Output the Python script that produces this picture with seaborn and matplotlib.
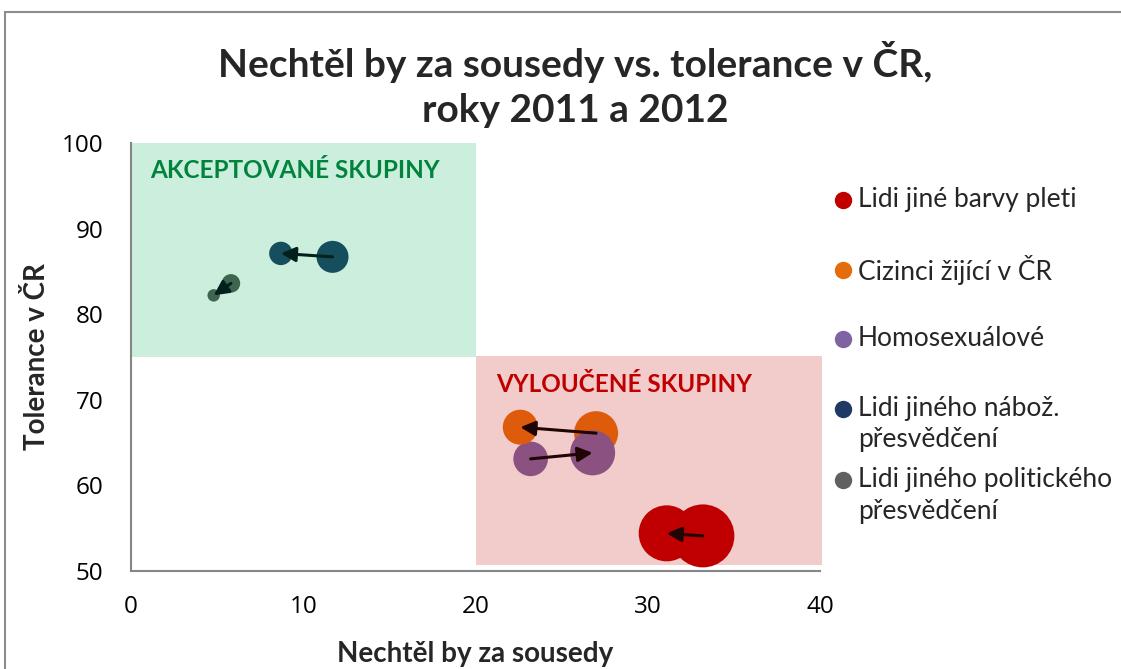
import matplotlib
matplotlib.use("Agg")
import matplotlib.pyplot as plt
import matplotlib.patches as mpatches
from matplotlib.lines import Line2D
import seaborn as sns
import pandas as pd

# ---- data ----
groups = ["Lidi jiné barvy pleti", "Cizinci žijící v ČR", "Homosexuálové",
          "Lidi jiného nábož. přesvědčení", "Lidi jiného politického přesvědčení"]
legend_labels = [["Lidi jiné barvy pleti"], ["Cizinci žijící v ČR"], ["Homosexuálové"],
                 ["Lidi jiného nábož.", "přesvědčení"],
                 ["Lidi jiného politického", "přesvědčení"]]
x_2011 = [33.2, 27.0, 23.2, 11.7, 5.8]
y_2011 = [54.1, 66.1, 63.1, 86.7, 83.6]
x_2012 = [31.1, 22.6, 26.8, 8.7, 4.8]
y_2012 = [54.4, 66.8, 63.8, 87.1, 82.2]
size_2011 = [2057, 1004, 620, 531, 179]
size_2012 = [1626, 635, 1050, 284, 80]
x_ticks = [0, 10, 20, 30, 40]
y_ticks = [50, 60, 70, 80, 90, 100]

title_lines = ["Nechtěl by za sousedy vs. tolerance v ČR,", "roky 2011 a 2012"]
xlabel = "Nechtěl by za sousedy"
ylabel = "Tolerance v ČR"

point_colors = ["#C00000", "#DE5B0B", "#8B5181", "#154F5E", "#3F6550"]
legend_colors = ["#C00000", "#E46C0A", "#8064A2", "#1F3864", "#606060"]
arrow_colors = ["#200505", "#200505", "#200505", "#04201A", "#04201A"]

df = pd.DataFrame({
    "group": groups * 2,
    "x": x_2011 + x_2012,
    "y": y_2011 + y_2012,
    "size": size_2011 + size_2012,
    "year": ["2011"] * 5 + ["2012"] * 5,
})

sns.set_theme(style="white")
plt.rcParams["font.family"] = ["Lato", "DejaVu Sans"]

W, H = 1121, 669
fig = plt.figure(figsize=(W / 100, H / 100), dpi=100)
ax = fig.add_axes([131 / W, 1 - 571 / H, (820 - 131) / W, (571 - 143) / H])

# outer frame
fig.add_artist(mpatches.Rectangle((5 / W, -0.05), 1.1, 1 - 12 / H + 0.05,
                                  transform=fig.transFigure, fill=False,
                                  edgecolor="#8C8C8C", linewidth=1.5, zorder=0))

# zones
ax.add_patch(mpatches.Rectangle((0, 75), 20, 25, facecolor="#CCEEDC", edgecolor="none", zorder=0))
ax.add_patch(mpatches.Rectangle((20, 50.7), 20.1, 24.4, facecolor="#F2CBCB", edgecolor="none",
                                zorder=0, clip_on=False))
ax.text(1.1, 96.8, "AKCEPTOVANÉ SKUPINY", color="#00843D", fontsize=17.5, fontweight="bold",
        va="center", ha="left")
ax.text(21.2, 71.8, "VYLOUČENÉ SKUPINY", color="#C00000", fontsize=17.5, fontweight="bold",
        va="center", ha="left")

smin, smax = min(df["size"]), max(df["size"])
sns.scatterplot(data=df, x="x", y="y", hue="group", size="size", sizes=(smin, smax),
                size_norm=(smin, smax), palette=dict(zip(groups, point_colors)),
                hue_order=groups, linewidth=0, alpha=1, legend=False, ax=ax, zorder=3)

for i in range(len(groups)):
    ax.annotate("", xy=(x_2012[i], y_2012[i]), xytext=(x_2011[i], y_2011[i]),
                arrowprops=dict(arrowstyle="-|>", color=arrow_colors[i], lw=2.2,
                                mutation_scale=22, shrinkA=0, shrinkB=0), zorder=4)

ax.set_xlim(0, 40)
ax.set_ylim(50, 100)
ax.set_xticks(x_ticks)
ax.set_yticks(y_ticks)
ax.tick_params(axis="both", length=7, width=1.5, color="#868686",
               direction="out", labelcolor="black", labelsize=17.5,
               labelfontfamily="Open Sans")
ax.tick_params(axis="x", pad=10)
ax.tick_params(axis="y", pad=13)
for s in ["top", "right"]:
    ax.spines[s].set_visible(False)
for s in ["left", "bottom"]:
    ax.spines[s].set_color("#868686")
    ax.spines[s].set_linewidth(1.5)
ax.set_facecolor("none")
ax.set_xlabel(xlabel, fontsize=20, fontweight="bold", labelpad=16)
ax.set_ylabel(ylabel, fontsize=20, fontweight="bold", labelpad=8)

for k, line in enumerate(title_lines):
    fig.text(575 / W, 1 - (62 + 48 * k) / H, line, ha="center", va="center", fontsize=28,
             fontweight="bold")

# manual legend
leg_y = [200, 270, 339, 409, 480]
for i, lines in enumerate(legend_labels):
    yy = 1 - leg_y[i] / H
    fig.add_artist(Line2D([843 / W], [yy], marker="o", markersize=11.5, color=legend_colors[i],
                          linestyle="none", transform=fig.transFigure))
    for k, line in enumerate(lines):
        fig.text(858 / W, 1 - (leg_y[i] + 31 * k) / H, line, ha="left", va="center",
                 fontsize=19)

fig.savefig("out.png", dpi=100)
